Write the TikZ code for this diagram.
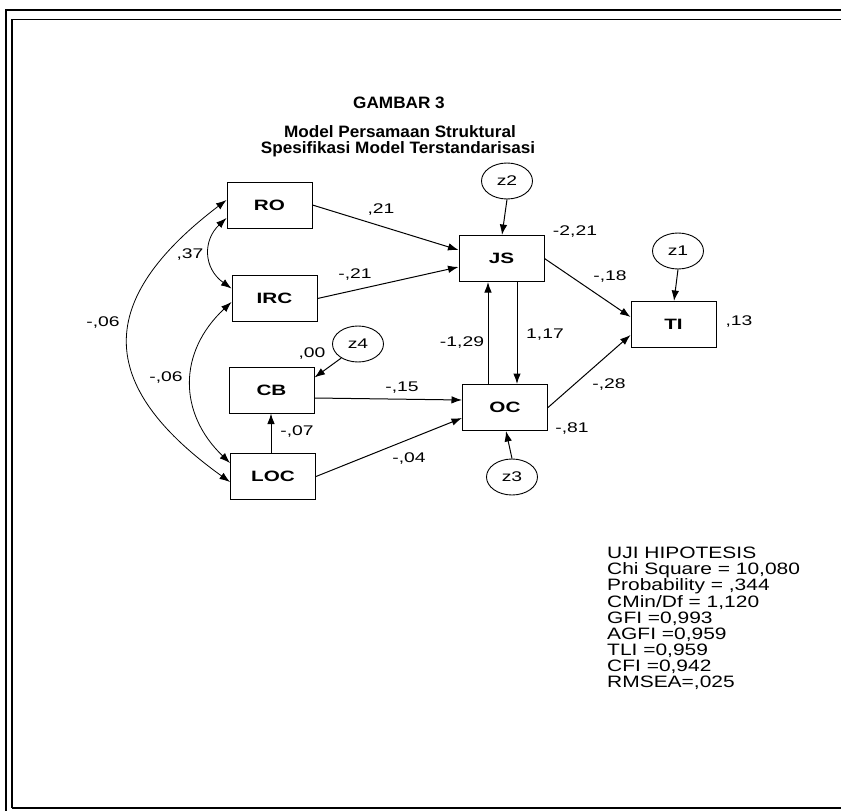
\documentclass[tikz,border=0pt]{standalone}
\usepackage{fontspec}
\setmainfont{Liberation Sans}[FakeStretch=1.38]
\newfontfamily\titlefam{Liberation Sans}[FakeStretch=1.04]
\newfontfamily\statfam{Liberation Sans}[FakeStretch=1.27]
\usetikzlibrary{arrows.meta,shapes.geometric}
\newcommand\boxfont{\bfseries\fontsize{15}{18}\selectfont}
\newcommand\errfont{\fontsize{14}{16}\selectfont}
\newcommand\labfont{\fontsize{14}{16}\selectfont}
\newcommand\titlefont{\titlefam\bfseries\fontsize{16.5}{17}\selectfont}
\newcommand\statfont{\statfam\fontsize{16.5}{16.1}\selectfont\lineskiplimit=-8pt\relax}
\tikzset{
  box/.style={draw, line width=1pt, minimum width=85pt, minimum height=46pt, inner sep=0pt, font=\boxfont},
  err/.style={draw, ellipse, line width=0.9pt, minimum width=51pt, minimum height=36pt, inner sep=0pt, font=\errfont},
  lab/.style={font=\labfont, inner sep=0pt},
  arr/.style={line width=1pt, -{Latex[length=10.5pt,width=7.5pt]}},
  carr/.style={line width=0.8pt, {Latex[length=10.5pt,width=7.5pt]}-{Latex[length=10.5pt,width=7.5pt]}},
  frame/.style={line width=2pt},
}
\begin{document}
\begin{tikzpicture}[x=1pt,y=-1pt]
\useasboundingbox (0,0) rectangle (841,811);
% frame
\draw[frame] (6,811) -- (6,10) -- (841,10);
\draw[line width=1.5pt] (12,808) -- (12,19.5) -- (841,19.5);
\draw[frame] (12,808) -- (841,808);
% title
\node[font=\titlefont, anchor=base, inner sep=0pt] (t0) at (399,108) {GAMBAR 3};
\node[font=\titlefont, anchor=base, inner sep=0pt] (t1) at (400,137.5) {Model Persamaan Struktural};
\node[font=\titlefont, anchor=base, inner sep=0pt] (t2) at (398,153.5) {Spesifikasi Model Terstandarisasi};
% boxes
\node[box] (RO) at (269.5,205) {RO};
\node[box] (IRC) at (274.5,298.5) {IRC};
\node[box] (CB) at (271.5,390) {CB};
\node[box] (LOC) at (273,476.5) {LOC};
\node[box] (JS) at (501.5,258.5) {JS};
\node[box] (OC) at (505,407.5) {OC};
\node[box] (TI) at (673.5,324.5) {TI};
% error terms
\node[err] (z2) at (507,181) {z2};
\node[err] (z1) at (678,251) {z1};
\node[err] (z4) at (358,344) {z4};
\node[err] (z3) at (512,477) {z3};
% paths
\draw[arr] (RO.east) -- ([yshift=8.5pt]JS.west);
\draw[arr] (IRC.east) -- ([yshift=-8.5pt]JS.west);
\draw[arr] (JS.east) -- ([yshift=7.5pt]TI.west);
\draw[arr] (OC.east) -- ([yshift=-10.5pt]TI.west);
\draw[arr] ([xshift=15.5pt]JS.south) -- ([xshift=15.5pt]JS.south |- OC.north);
\draw[arr] ([xshift=-17pt]OC.north) -- ([xshift=-17pt]OC.north |- JS.south);
\draw[arr] ([yshift=-8pt]CB.east) -- ([yshift=7.5pt]OC.west);
\draw[arr] (LOC.east) -- ([yshift=-10.5pt]OC.west);
\draw[arr] ([xshift=-2pt]LOC.north) -- ([xshift=-2pt]LOC.north |- CB.south);
\draw[arr] (z4.220) -- ([yshift=-11pt]CB.north east);
\draw[arr] (z2.south) -- ([xshift=0.5pt]JS.north);
\draw[arr] (z1.south) -- ([xshift=0.5pt]TI.north);
\draw[arr] (z3.north) -- ([xshift=1pt]OC.south);
% covariances
\draw[carr] ([yshift=-13pt]RO.west) .. controls (203,240) and (203,268) .. ([yshift=10pt]IRC.west);
\draw[carr] ([yshift=5pt]RO.west) .. controls (95,300) and (95,385) .. ([yshift=-5.5pt]LOC.west);
\draw[carr] ([yshift=-3.5pt]IRC.west) .. controls (178,352) and (178,413) .. ([yshift=13.5pt]LOC.west);
% labels
\node[lab] (l1) at (381,210) {,21};
\node[lab] (l2) at (355,275) {-,21};
\node[lab] (l3) at (575,232) {-2,21};
\node[lab] (l4) at (610,277) {-,18};
\node[lab] (l5) at (739,322) {,13};
\node[lab] (l6) at (545,335) {1,17};
\node[lab] (l7) at (462,343) {-1,29};
\node[lab] (l8) at (312,354) {,00};
\node[lab] (l9) at (402,388) {-,15};
\node[lab] (l10) at (297,432) {-,07};
\node[lab] (l11) at (409,459) {-,04};
\node[lab] (l12) at (609,385) {-,28};
\node[lab] (l13) at (572,429) {-,81};
\node[lab] (l14) at (190,255) {,37};
\node[lab] (l15) at (103,323) {-,06};
\node[lab] (l16) at (166,378) {-,06};
% statistics
\node[font=\statfont, anchor=north west, align=left, inner sep=0pt] (stats) at (607,547)
  {UJI HIPOTESIS\\Chi Square = 10,080\\Probability = ,344\\CMin/Df = 1,120\\GFI =0,993\\AGFI =0,959\\TLI =0,959\\CFI =0,942\\RMSEA=,025};
\end{tikzpicture}
\end{document}
